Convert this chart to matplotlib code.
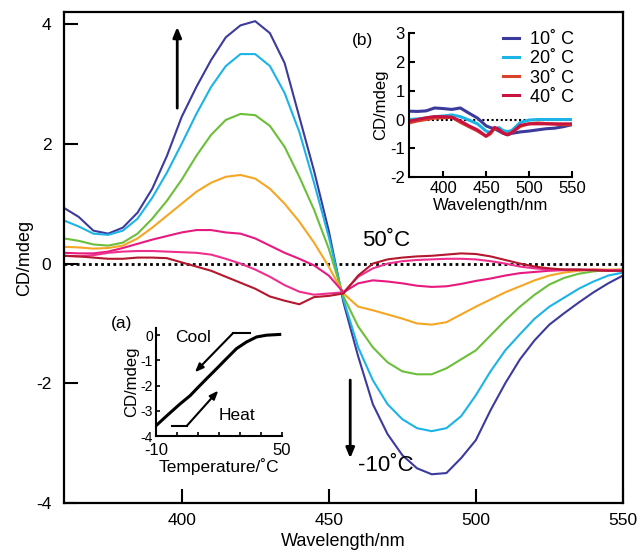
import matplotlib
matplotlib.use("Agg")
import matplotlib.pyplot as plt

plt.rcParams['font.family'] = ['Liberation Sans', 'DejaVu Sans']
plt.rcParams['axes.unicode_minus'] = False

# main panel: CD spectra, -10 C (navy) ... 50 C (dark red)
wl = list(range(360, 551, 5))
cd_m10 = [0.93, 0.78, 0.55, 0.50, 0.60, 0.85, 1.25, 1.80, 2.45, 2.95, 3.40, 3.78, 3.98, 4.05, 3.85, 3.35, 2.45, 1.55,
          0.55, -0.65, -1.55, -2.35, -2.85, -3.20, -3.42, -3.52, -3.50, -3.25, -2.95, -2.45, -2.00, -1.60, -1.28, -1.02,
          -0.83, -0.65, -0.48, -0.33, -0.20]
cd_0 = [0.72, 0.62, 0.50, 0.48, 0.55, 0.75, 1.10, 1.52, 2.00, 2.50, 2.95, 3.30, 3.50, 3.50, 3.30, 2.85, 2.20, 1.35,
        0.45, -0.60, -1.40, -1.95, -2.35, -2.60, -2.75, -2.80, -2.75, -2.55, -2.20, -1.80, -1.45, -1.18, -0.92, -0.72,
        -0.57, -0.42, -0.30, -0.20, -0.15]
cd_10 = [0.42, 0.38, 0.32, 0.30, 0.35, 0.50, 0.75, 1.05, 1.40, 1.80, 2.15, 2.40, 2.50, 2.48, 2.30, 1.95, 1.45, 0.90,
         0.25, -0.55, -1.05, -1.40, -1.65, -1.80, -1.85, -1.85, -1.75, -1.60, -1.45, -1.20, -0.95, -0.72, -0.52, -0.35,
         -0.24, -0.17, -0.13, -0.11, -0.10]
cd_20 = [0.28, 0.27, 0.25, 0.26, 0.30, 0.42, 0.60, 0.80, 1.00, 1.20, 1.35, 1.45, 1.48, 1.42, 1.25, 1.00, 0.70, 0.35,
         -0.05, -0.50, -0.72, -0.78, -0.85, -0.92, -1.00, -1.02, -0.98, -0.85, -0.72, -0.60, -0.48, -0.38, -0.28, -0.20,
         -0.15, -0.12, -0.10, -0.10, -0.10]
cd_30 = [0.18, 0.17, 0.17, 0.20, 0.26, 0.33, 0.40, 0.46, 0.52, 0.56, 0.56, 0.52, 0.50, 0.42, 0.30, 0.18, 0.08, -0.03,
         -0.20, -0.48, -0.33, -0.28, -0.30, -0.33, -0.37, -0.39, -0.38, -0.34, -0.29, -0.25, -0.20, -0.16, -0.14, -0.12,
         -0.11, -0.11, -0.11, -0.12, -0.12]
cd_40 = [0.13, 0.12, 0.14, 0.18, 0.20, 0.21, 0.21, 0.20, 0.19, 0.18, 0.15, 0.08, 0.00, -0.10, -0.22, -0.36, -0.47,
         -0.52, -0.50, -0.48, -0.22, -0.08, 0.00, 0.04, 0.06, 0.07, 0.08, 0.08, 0.07, 0.04, 0.00, -0.05, -0.08, -0.10,
         -0.10, -0.10, -0.10, -0.11, -0.11]
cd_50 = [0.13, 0.12, 0.10, 0.08, 0.08, 0.10, 0.10, 0.09, 0.02, -0.05, -0.12, -0.22, -0.32, -0.42, -0.55, -0.62, -0.68,
         -0.56, -0.54, -0.50, -0.20, 0.00, 0.07, 0.10, 0.12, 0.13, 0.15, 0.17, 0.16, 0.12, 0.06, 0.00, -0.05, -0.08,
         -0.10, -0.10, -0.11, -0.12, -0.12]
main_series = [cd_m10, cd_0, cd_10, cd_20, cd_30, cd_40, cd_50]
main_colors = ['#3c3a9c', '#1cb4e6', '#6cbf3a', '#f5a623', '#e8197f', '#ee2f8e', '#b5172f']

# inset (b)
wl_b = [360, 370, 380, 390, 400, 410, 420, 430, 440, 450, 455, 460, 465, 470, 475, 480, 490, 500, 510, 520, 530, 540, 550]
b_10 = [0.29, 0.28, 0.30, 0.40, 0.38, 0.35, 0.40, 0.22, 0.05, -0.22, -0.28, -0.32, -0.40, -0.48, -0.53, -0.48, -0.43,
        -0.40, -0.36, -0.32, -0.30, -0.25, -0.18]
b_20 = [0.00, 0.02, 0.05, 0.10, 0.12, 0.16, 0.10, -0.02, -0.15, -0.40, -0.45, -0.32, -0.28, -0.38, -0.42, -0.38, -0.10,
        -0.02, 0.00, 0.00, 0.00, 0.00, 0.00]
b_30 = [-0.12, -0.05, 0.00, 0.05, 0.06, 0.08, -0.10, -0.25, -0.40, -0.58, -0.50, -0.30, -0.35, -0.47, -0.52, -0.45,
        -0.24, -0.15, -0.12, -0.14, -0.16, -0.18, -0.18]
b_40 = [-0.06, 0.00, 0.06, 0.10, 0.10, 0.08, -0.05, -0.22, -0.36, -0.58, -0.45, -0.27, -0.35, -0.47, -0.53, -0.45,
        -0.20, -0.15, -0.15, -0.15, -0.15, -0.15, -0.15]
b_series = [b_10, b_20, b_30, b_40]
b_labels = ['10˚ C', '20˚ C', '30˚ C', '40˚ C']
b_colors = ['#3c3a9c', '#1cb4e6', '#d9432a', '#c8123f']

# inset (a): CD vs temperature
temp_a = [-10, -4.8, 1.5, 6.3, 9.4, 14.1, 18.9, 23.6, 28.4, 33.1, 37.9, 42.6, 48.9]
cd_a = [-3.6, -3.2, -2.73, -2.4, -2.13, -1.73, -1.33, -0.93, -0.53, -0.27, -0.07, 0.0, 0.03]

fig = plt.figure(figsize=(6.41, 5.59), dpi=100)

ax = fig.add_axes([0.0998, 0.1002, 0.872, 0.878])
for ys, c in zip(main_series, main_colors):
    ax.plot(wl, ys, color=c, lw=1.5)
ax.axhline(0, color='black', ls=(0, (1, 1.2)), lw=2, zorder=1)
ax.set_xlim(360, 550)
ax.set_ylim(-4, 4.2)
ax.set_xticks([400, 450, 500, 550])
ax.set_yticks([-4, -2, 0, 2, 4])
ax.tick_params(direction='in', length=10, width=1.5, labelsize=12.5)
ax.tick_params(axis='y', pad=9)
ax.tick_params(axis='x', pad=7)
for s in ax.spines.values():
    s.set_linewidth(1.6)
ax.set_xlabel('Wavelength/nm', fontsize=13, labelpad=4)
ax.set_ylabel('CD/mdeg', fontsize=13, labelpad=2)

ax.annotate('', xy=(398.5, 4.0), xytext=(398.5, 2.55),
            arrowprops=dict(arrowstyle='-|>,head_length=0.6,head_width=0.25', color='black', lw=2))
ax.annotate('', xy=(457.3, -3.3), xytext=(457.3, -1.9),
            arrowprops=dict(arrowstyle='-|>,head_length=0.6,head_width=0.25', color='black', lw=2))
ax.text(469.5, 0.39, '50˚C', fontsize=16, ha='center', va='center')
ax.text(469.5, -3.37, '-10˚C', fontsize=16, ha='center', va='center')

# inset (b)
axb = fig.add_axes([0.638, 0.683, 0.254, 0.258])
for ys, c, lab in zip(b_series, b_colors, b_labels):
    axb.plot(wl_b, ys, color=c, lw=2.2, label=lab)
axb.axhline(0, color='black', ls=(0, (1, 1.2)), lw=1.5, zorder=1)
axb.set_xlim(360, 550)
axb.set_ylim(-2, 3)
axb.set_xticks([400, 450, 500, 550])
axb.set_yticks([-2, -1, 0, 1, 2, 3])
axb.spines['top'].set_visible(False)
axb.spines['right'].set_visible(False)
for s in ['left', 'bottom']:
    axb.spines[s].set_linewidth(1.5)
axb.tick_params(direction='in', length=4, width=1.5, labelsize=12, pad=3)
axb.set_xlabel('Wavelength/nm', fontsize=12, labelpad=1)
axb.set_ylabel('CD/mdeg', fontsize=12, labelpad=1)
axb.patch.set_alpha(0)
axb.legend(loc='upper right', bbox_to_anchor=(1.09, 1.10), frameon=False, fontsize=13,
           handlelength=0.9, handletextpad=0.6, labelspacing=0.12, borderpad=0.2)
fig.text(0.566, 0.928, '(b)', fontsize=12.5, ha='center', va='center')

# inset (a)
axa = fig.add_axes([0.243, 0.22, 0.197, 0.193])
axa.plot(temp_a, cd_a, color='black', lw=2.2)
axa.set_xlim(-10, 50)
axa.set_ylim(-4, 0.28)
axa.set_xticks([-10, 0, 10, 20, 30, 40, 50])
axa.set_xticklabels(['-10', '', '', '', '', '', '50'])
axa.set_yticks([-4, -3, -2, -1, 0])
axa.spines['top'].set_visible(False)
axa.spines['right'].set_visible(False)
for s in ['left', 'bottom']:
    axa.spines[s].set_linewidth(1.5)
axa.tick_params(direction='in', length=3, width=1.2, pad=2)
axa.tick_params(axis='x', labelsize=12, pad=5)
axa.tick_params(axis='y', labelsize=10)
axa.set_xlabel('Temperature/˚C', fontsize=12.5, labelpad=0)
axa.set_ylabel('CD/mdeg', fontsize=12, labelpad=1)
axa.patch.set_alpha(0)
axa.plot([34.7, 26.8], [0.09, 0.09], color='black', lw=1.5)
axa.annotate('', xy=(8.6, -1.47), xytext=(26.8, 0.09),
             arrowprops=dict(arrowstyle='-|>,head_length=0.5,head_width=0.2', color='black', lw=1.5,
                             shrinkA=0, shrinkB=0))
axa.plot([-2.4, 4.7], [-3.6, -3.6], color='black', lw=1.5)
axa.annotate('', xy=(19.7, -2.2), xytext=(4.7, -3.6),
             arrowprops=dict(arrowstyle='-|>,head_length=0.5,head_width=0.2', color='black', lw=1.5,
                             shrinkA=0, shrinkB=0))
axa.text(7.8, -0.09, 'Cool', fontsize=12.5, ha='center', va='center')
axa.text(28.4, -3.2, 'Heat', fontsize=12.5, ha='center', va='center')
fig.text(0.19, 0.422, '(a)', fontsize=12.5, ha='center', va='center')

fig.savefig('out.png', dpi=100)
